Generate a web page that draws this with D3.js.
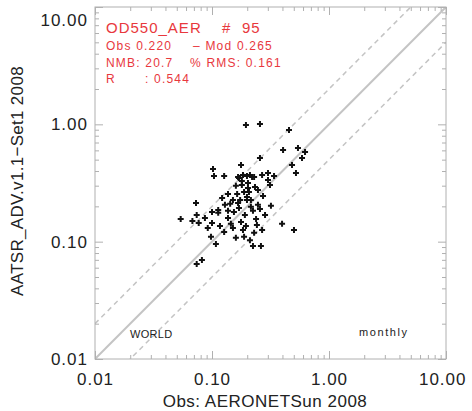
<!DOCTYPE html>
<html>
<head>
<meta charset="utf-8">
<script src="https://cdn.jsdelivr.net/npm/d3@7"></script>
<style>
  body { margin: 0; background: #fff; }
  svg { font-family: "Liberation Sans", Arial, sans-serif; }
</style>
</head>
<body>
<div class="canvas"></div>
<script>
// observed (AERONET) vs model (AATSR) AOD, monthly station values
const obs = [0.195, 0.257, 0.455, 0.405, 0.543, 0.624, 0.588, 0.483, 0.522, 0.257,
  0.177, 0.102, 0.104, 0.127, 0.170, 0.184, 0.199, 0.211, 0.229, 0.268,
  0.301, 0.339, 0.301, 0.247, 0.203, 0.180, 0.203, 0.188, 0.199, 0.137,
  0.151, 0.174, 0.215, 0.073, 0.129, 0.113, 0.100, 0.113, 0.154, 0.170,
  0.215, 0.224, 0.257, 0.319, 0.074, 0.054, 0.068, 0.077, 0.100, 0.117,
  0.092, 0.145, 0.151, 0.238, 0.242, 0.195, 0.184, 0.229, 0.188, 0.160,
  0.098, 0.397, 0.502, 0.108, 0.224, 0.262, 0.082, 0.074, 0.167, 0.220,
  0.143, 0.199, 0.247, 0.167, 0.313, 0.137, 0.273, 0.160, 0.191, 0.127,
  0.284, 0.207, 0.180, 0.233, 0.164, 0.122, 0.268, 0.211, 0.177, 0.137, 0.087];
const mod = [0.988, 1.008, 0.896, 0.605, 0.629, 0.582, 0.517, 0.451, 0.385, 0.517,
  0.451, 0.417, 0.363, 0.363, 0.349, 0.370, 0.363, 0.370, 0.356, 0.370,
  0.385, 0.363, 0.336, 0.276, 0.317, 0.304, 0.287, 0.265, 0.240, 0.255,
  0.227, 0.227, 0.227, 0.214, 0.206, 0.186, 0.179, 0.176, 0.179, 0.194,
  0.198, 0.183, 0.190, 0.202, 0.169, 0.156, 0.150, 0.144, 0.144, 0.136,
  0.131, 0.142, 0.131, 0.156, 0.139, 0.136, 0.126, 0.119, 0.110, 0.108,
  0.110, 0.142, 0.126, 0.0956, 0.0919, 0.0919, 0.0698, 0.0645, 0.356, 0.356,
  0.210, 0.227, 0.206, 0.214, 0.304, 0.159, 0.245, 0.299, 0.169, 0.121,
  0.169, 0.265, 0.329, 0.293, 0.255, 0.236, 0.126, 0.103, 0.147, 0.183, 0.159];

const majorTicks = [0.01, 0.1, 1, 10];
// stats text, split in the columns the original uses
const statLines = [
  ["Obs 0.220", "\u2013 Mod 0.265"],
  ["NMB: 20.7", "% RMS: 0.161"],
  ["R", ": 0.544"]
];
const statCols = [[106, 193], [106, 190], [106, 145]];

const svg = d3.select('.canvas')
  .append('svg')
  .attr('width', 472)
  .attr('height', 411);

const x = d3.scaleLog().domain([0.01, 10]).range([95, 446]);
const y = d3.scaleLog().domain([0.01, 10]).range([359, 7]);

const minorTicks = x.ticks().filter(d => !majorTicks.some(m => Math.abs(m - d) < 1e-9));

const plot = svg.append('g');
svg.append('clipPath').attr('id', 'clip')
  .append('rect')
  .attr('x', 95).attr('y', 7).attr('width', 351).attr('height', 352);

// 1:1 and factor 2 lines
const refLines = [
  { f: 1, dash: null, w: 2 },
  { f: 2, dash: '5,4', w: 1.5 },
  { f: 0.5, dash: '5,4', w: 1.5 }
];
plot.selectAll('line.ref')
  .data(refLines)
  .enter()
  .append('line')
  .attr('clip-path', 'url(#clip)')
  .attr('x1', x(0.01)).attr('y1', d => y(0.01 * d.f))
  .attr('x2', x(10)).attr('y2', d => y(10 * d.f))
  .attr('stroke', '#c4c4c4')
  .attr('stroke-width', d => d.w)
  .attr('stroke-dasharray', d => d.dash);

// axes: ticks point inwards on all four sides
function drawAxis(axis, tr, vals, size, labels) {
  const g = svg.append('g')
    .attr('transform', tr)
    .call(axis.tickValues(vals).tickSize(size).tickFormat(labels ? d3.format('.2f') : ''));
  g.select('.domain').remove();
  g.selectAll('line').attr('stroke', '#b0b0b0');
  g.selectAll('text')
    .attr('fill', '#222')
    .style('font-size', '17px')
    .style('letter-spacing', '1px');
  return g;
}

const bottom = drawAxis(d3.axisBottom(x), 'translate(0,359)', majorTicks, -8, true);
bottom.selectAll('text').attr('y', 14).attr('dy', '0.71em');
bottom.selectAll('.tick').filter(d => d === 10).select('text')
  .attr('x', 20).attr('text-anchor', 'end');
drawAxis(d3.axisBottom(x), 'translate(0,359)', minorTicks, -4, false);
drawAxis(d3.axisTop(x), 'translate(0,7)', majorTicks, -8, false);
drawAxis(d3.axisTop(x), 'translate(0,7)', minorTicks, -4, false);

const left = drawAxis(d3.axisLeft(y), 'translate(95,0)', majorTicks, -8, true);
left.selectAll('text').attr('x', -7);
left.selectAll('.tick').filter(d => d === 10).select('text').attr('dy', '1.1em');
drawAxis(d3.axisLeft(y), 'translate(95,0)', minorTicks, -4, false);
drawAxis(d3.axisRight(y), 'translate(446,0)', majorTicks, -8, false);
drawAxis(d3.axisRight(y), 'translate(446,0)', minorTicks, -4, false);

svg.append('rect')
  .attr('x', 95).attr('y', 7).attr('width', 351).attr('height', 352)
  .attr('fill', 'none')
  .attr('stroke', '#b0b0b0')
  .attr('stroke-width', 1);

// points
const pts = obs.map((o, i) => ({ o: o, m: mod[i] }));
plot.selectAll('path.pt')
  .data(pts)
  .enter()
  .append('path')
  .attr('d', d => {
    const px = x(d.o), py = y(d.m), a = 3;
    return `M${px - a},${py}H${px + a}M${px},${py - a}V${py + a}`;
  })
  .attr('stroke', '#111')
  .attr('stroke-width', 2);

// titles
svg.append('text')
  .attr('x', 265).attr('y', 407)
  .attr('text-anchor', 'middle')
  .attr('fill', '#222')
  .style('font-size', '17px')
  .style('letter-spacing', '0.5px')
  .text('Obs: AERONETSun 2008');

svg.append('text')
  .attr('transform', 'translate(23,181) rotate(-90)')
  .attr('text-anchor', 'middle')
  .attr('fill', '#222')
  .style('font-size', '17px')
  .style('letter-spacing', '0.3px')
  .text('AATSR_ADV.v1.1\u2212Set1 2008');

// stats box
const red = '#e8383d';
const head = svg.append('g')
  .attr('fill', red)
  .style('font-size', '15px')
  .style('letter-spacing', '1px');
head.append('text').attr('x', 106).attr('y', 33).text('OD550_AER');
head.append('text').attr('x', 222).attr('y', 33).text('#');
head.append('text').attr('x', 242).attr('y', 33).text('95');

statLines.forEach((line, i) => {
  svg.selectAll(null)
    .data(line)
    .enter()
    .append('text')
    .attr('x', (d, j) => statCols[i][j])
    .attr('y', 50 + i * 16.5)
    .attr('fill', red)
    .style('font-size', '12px')
    .style('letter-spacing', '1.2px')
    .text(d => d);
});

svg.append('text')
  .attr('x', 130).attr('y', 338)
  .attr('fill', '#222')
  .style('font-size', '11px')
  .style('letter-spacing', '0.3px')
  .text('WORLD');

svg.append('text')
  .attr('x', 359).attr('y', 336)
  .attr('fill', '#222')
  .style('font-size', '11px')
  .style('letter-spacing', '1.6px')
  .text('monthly');
</script>
</body>
</html>
